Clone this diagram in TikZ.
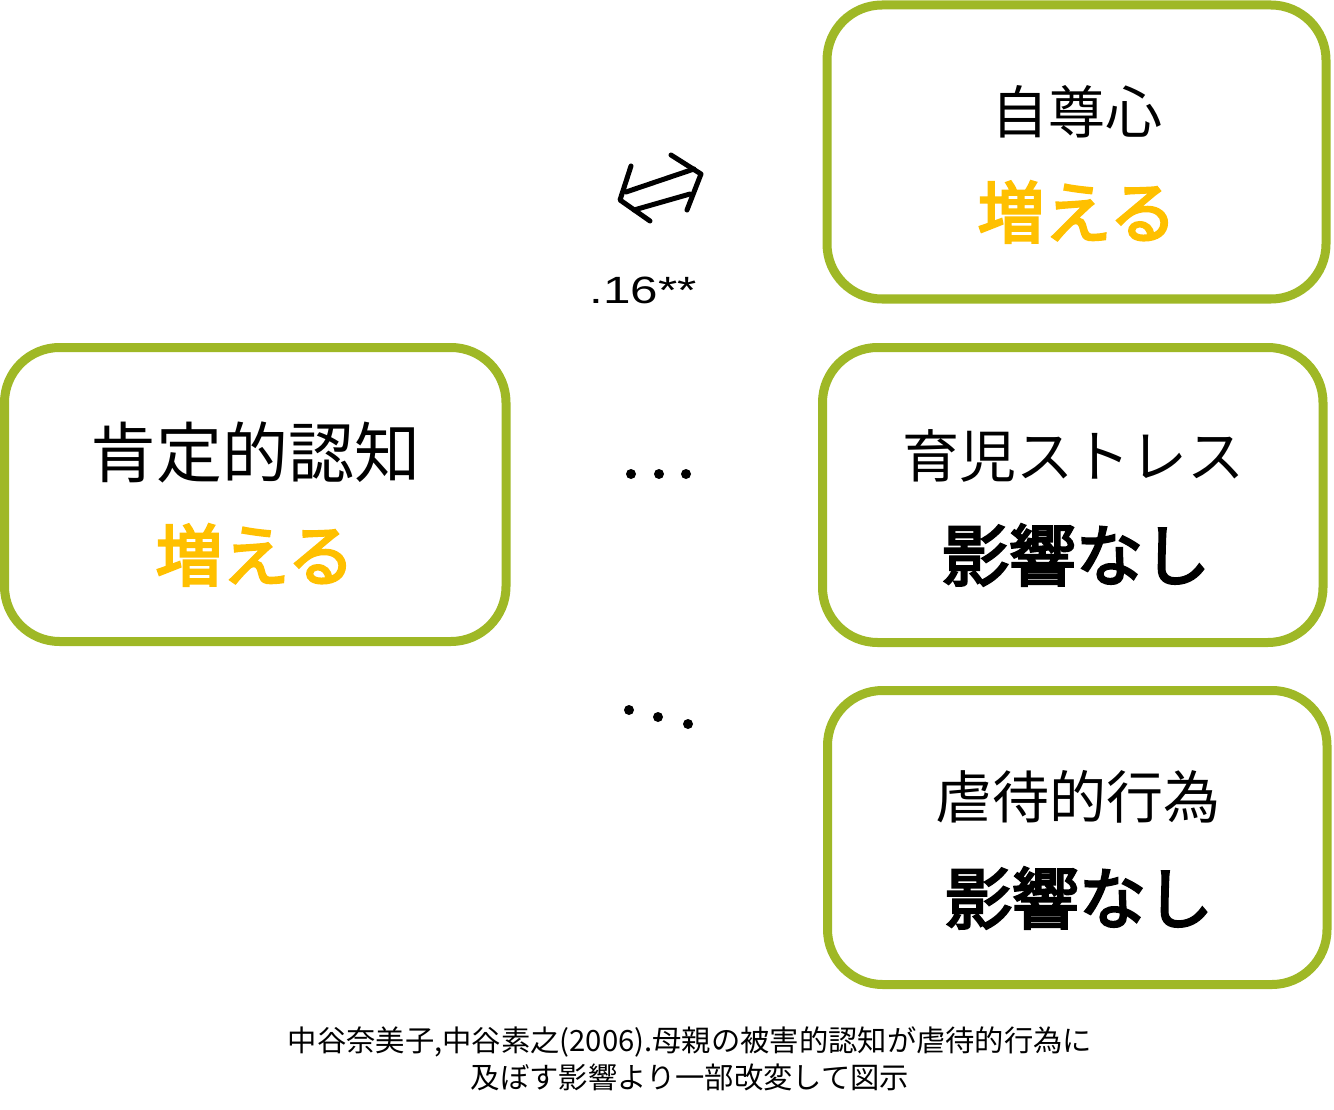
\documentclass[tikz,border=0pt]{standalone}
\usepackage{fontspec}
\setmainfont{Liberation Sans}
\newfontfamily\jp{Noto Sans CJK JP}
\newfontfamily\jpm{Noto Sans CJK JP}[FakeBold=3.5]
\usetikzlibrary{positioning}
\definecolor{boxgreen}{HTML}{9FB826}
\definecolor{upcol}{HTML}{FFC000}
\tikzset{
  box/.style={draw=boxgreen, line width=9pt, rounded corners=55pt, fill=white, inner sep=0pt},
  ttl/.style={font=\jp\fontsize{57}{60}\selectfont, inner sep=0pt},
  bigttl/.style={font=\jp\fontsize{66}{70}\selectfont, inner sep=0pt},
  res/.style={font=\jpm\fontsize{67}{70}\selectfont, inner sep=0pt},
  captext/.style={font=\jp\fontsize{29.3}{35}\selectfont, inner sep=0pt, align=center},
  dotc/.style={fill=black, circle, inner sep=0pt, minimum size=10pt},
  arr/.style={line width=5pt, line cap=round, line join=round}
}
\begin{document}
\begin{tikzpicture}[x=1pt,y=-1pt]
\useasboundingbox (0,0) rectangle (1334,1110);
% boxes
\node[box, minimum width=499pt, minimum height=294pt] (b1) at (1076.5,152) {};
\node[box, minimum width=501.5pt, minimum height=294pt] (b2) at (255.25,494.5) {};
\node[box, minimum width=500.5pt, minimum height=295pt] (b3) at (1072.75,495) {};
\node[box, minimum width=499.5pt, minimum height=294pt] (b4) at (1077.25,837.5) {};
% texts
\node[ttl] (t1) at (1077,112) {自尊心};
\node[res, text=upcol] (r1) at (1077,212) {増える};
\node[bigttl] (t2) at (255,452) {肯定的認知};
\node[res, text=upcol] (r2) at (255,555) {増える};
\node[ttl] (t3) at (1073,456) {育児ストレス};
\node[res] (r3) at (1076,555) {影響なし};
\node[ttl] (t4) at (1078,797) {虐待的行為};
\node[res] (r4) at (1079,898) {影響なし};
% correlation arrow
\coordinate (lt) at (620,200);
\coordinate (lu) at (631,166);
\coordinate (ll) at (650,221);
\coordinate (rt) at (701,174);
\coordinate (ru) at (671,155);
\coordinate (rl) at (687,210);
\coordinate (s1a) at (626,192);
\coordinate (s1b) at (694,169);
\coordinate (s2a) at (634,210);
\coordinate (s2b) at (690,194);
\draw[arr] (lu) -- (lt) -- (ll);
\draw[arr] (ru) -- (rt) -- (rl);
\draw[arr] (s1a) -- (s1b);
\draw[arr] (s2a) -- (s2b);
\node[inner sep=0pt, font=\fontsize{38}{42}\selectfont] (coef) at (643,290) {\scalebox{1.3}[1]{.16**}};
% dots
\node[dotc] (d1) at (631,474) {};
\node[dotc] (d2) at (659,474) {};
\node[dotc] (d3) at (686,474) {};
\node[dotc] (e1) at (629,710) {};
\node[dotc] (e2) at (658,717) {};
\node[dotc] (e3) at (688,724) {};
% caption
\node[captext] (c1) at (690,1042) {中谷奈美子,中谷素之(2006).母親の被害的認知が虐待的行為に};
\node[captext] (c2) at (690,1077) {及ぼす影響より一部改変して図示};
\end{tikzpicture}
\end{document}
